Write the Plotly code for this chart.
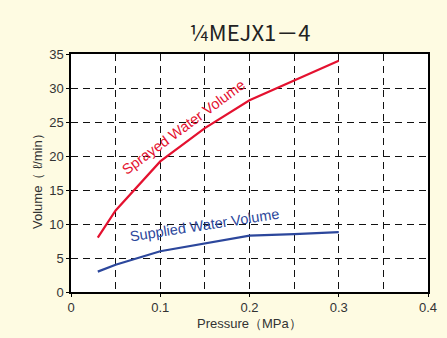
import plotly.graph_objects as go

title_text = "¼MEJX1－4"
x_label = "Pressure（MPa）"
y_label = "Volume（ ℓ/min）"

sprayed_pressure = [0.03, 0.05, 0.10, 0.15, 0.20, 0.30]
sprayed_volume = [8.0, 12.0, 19.2, 24.1, 28.2, 34.0]
supplied_pressure = [0.03, 0.05, 0.10, 0.15, 0.20, 0.25, 0.30]
supplied_volume = [3.0, 4.0, 6.0, 7.2, 8.3, 8.5, 8.8]

x_ticks = [0, 0.1, 0.2, 0.3, 0.4]
x_tick_labels = ["0", "0.1", "0.2", "0.3", "0.4"]
y_ticks = [0, 5, 10, 15, 20, 25, 30, 35]

red = "#E4112F"
blue = "#2C479C"
bg = "#FEFBE2"
font_main = "Liberation Sans, Arial, sans-serif"
grid_dash = "7px,5px"

W, H = 447, 338
L, R, T, B = 71, 19, 54, 46

fig = go.Figure()
fig.add_trace(go.Scatter(x=sprayed_pressure, y=sprayed_volume, mode="lines",
                         line=dict(color=red, width=2.2), showlegend=False))
fig.add_trace(go.Scatter(x=supplied_pressure, y=supplied_volume, mode="lines",
                         line=dict(color=blue, width=2.2), showlegend=False))

fig.update_layout(
    width=W, height=H,
    margin=dict(l=L, r=R, t=T, b=B, autoexpand=False),
    paper_bgcolor=bg, plot_bgcolor="white",
    font=dict(family=font_main, size=13, color="#333333"),
    title=dict(text=title_text, x=250 / W, xanchor="center", y=1 - 33 / H, yanchor="middle",
               font=dict(family="Noto Sans CJK JP, sans-serif", size=22, color="#222222")),
    annotations=[
        dict(text="Sprayed Water Volume", x=0.126, y=24.3, xref="x", yref="y",
             showarrow=False, textangle=-36.5,
             font=dict(family=font_main, size=14.5, color=red)),
        dict(text="Supplied Water Volume", x=0.150, y=9.9, xref="x", yref="y",
             showarrow=False, textangle=-8.7,
             font=dict(family=font_main, size=14.5, color=blue)),
        dict(text=x_label, xref="paper", yref="paper",
             x=(249 - L) / (W - L - R), y=-(323 - (H - B)) / (H - T - B),
             xanchor="center", yanchor="middle", showarrow=False,
             font=dict(family=font_main, size=13, color="#333333")),
        dict(text=y_label, xref="paper", yref="paper", textangle=-90,
             x=-(L - 37) / (W - L - R), y=(H - B - 178) / (H - T - B),
             xanchor="center", yanchor="middle", showarrow=False,
             font=dict(family=font_main, size=13, color="#333333")),
    ],
)

fig.update_xaxes(
    range=[0, 0.4], tickvals=x_ticks, ticktext=x_tick_labels, automargin=False,
    showline=True, linecolor="black", linewidth=1.5, mirror=True,
    ticks="outside", ticklen=3, tickcolor="black",
    showgrid=True, gridcolor="#111111", griddash=grid_dash, gridwidth=1.2,
    minor=dict(dtick=0.05, tick0=0, showgrid=True, gridcolor="#111111",
               griddash=grid_dash, gridwidth=1.2),
    zeroline=False,
    tickfont=dict(size=13, color="#333333"),
)
fig.update_yaxes(
    range=[0, 35], tickvals=y_ticks, automargin=False,
    showline=True, linecolor="black", linewidth=1.5, mirror=True,
    ticks="outside", ticklen=3, tickcolor="black",
    showgrid=True, gridcolor="#111111", griddash=grid_dash, gridwidth=1.2,
    zeroline=False,
    tickfont=dict(size=13, color="#333333"),
)

fig.write_html("out.html", config={"displayModeBar": False},
               post_script="document.body.style.margin='0';")
